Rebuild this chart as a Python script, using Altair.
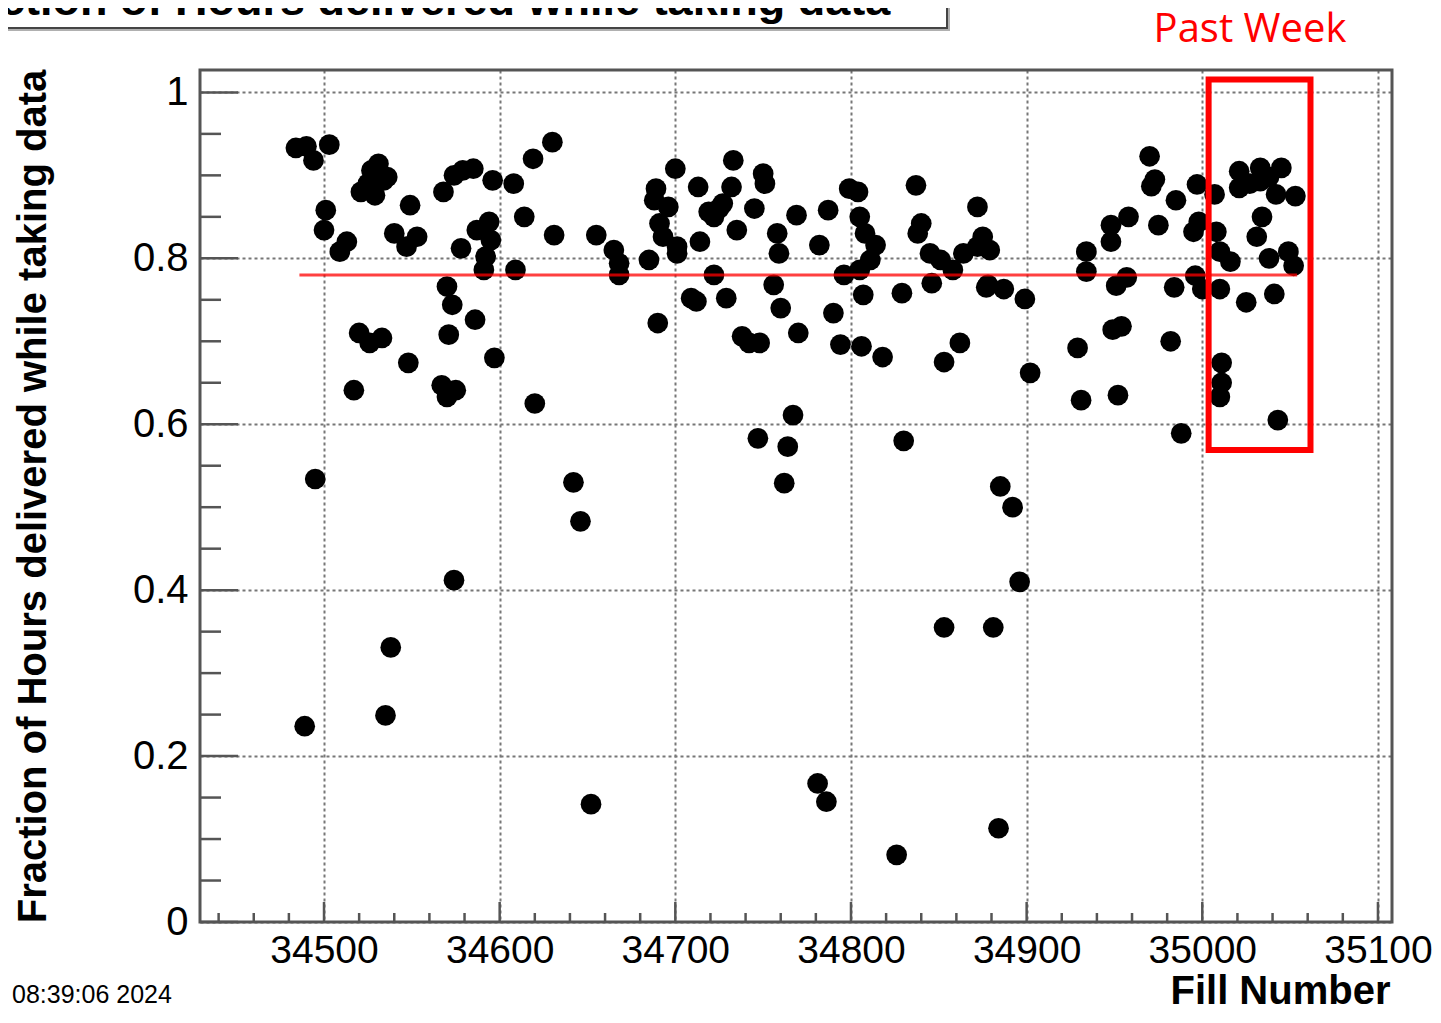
import altair as alt
import pandas as pd

# ---- data ----
fill_number = [
    34484, 34490, 34494, 34503, 34501, 34500, 34513, 34509, 34527, 34531,
    34536, 34525, 34521, 34529, 34534, 34549, 34540, 34547, 34553, 34568,
    34574, 34579, 34585, 34596, 34608, 34619, 34630, 34614, 34631, 34655,
    34578, 34587, 34594, 34595, 34592, 34591, 34609, 34570, 34573, 34586,
    34571, 34597, 34520, 34526, 34533, 34548, 34517, 34567, 34575, 34570,
    34620, 34665, 34668, 34668, 34685, 34689, 34688, 34696, 34691, 34693,
    34701, 34701, 34700, 34713, 34714, 34722, 34727, 34732, 34719, 34725,
    34733, 34735, 34745, 34750, 34751, 34758, 34759, 34769, 34782, 34787,
    34799, 34804, 34805, 34808, 34814, 34811, 34805, 34796, 34837, 34840,
    34838, 34845, 34851, 34858, 34864, 34872, 34875, 34872, 34879, 34846,
    34878, 34829, 34807, 34756, 34722, 34760, 34709, 34712, 34729, 34690,
    34738, 34742, 34748, 34770, 34790, 34794, 34806, 34818, 34862, 34853,
    34767, 34747, 34764, 34762, 34830, 34877, 34887, 34899, 34902, 34934,
    34934, 34948, 34948, 34958, 34951, 34957, 34970, 34971, 34973, 34985,
    34975, 34997, 34995, 34998, 34984, 34996, 35000, 35007, 35008, 35010,
    35016, 35010, 35021, 35021, 35033, 35033, 35045, 35042, 35053, 35034,
    35031, 35038, 35049, 35052, 35025, 35041, 35011, 35011, 35010, 35043,
    34988, 34982, 34929, 34954, 34949, 34931, 34952, 34495, 34642, 34646,
    34574, 34538, 34535, 34489, 34652, 34885, 34892, 34896, 34853, 34881,
    34781, 34786, 34884, 34826, 35027, 35038,
]
fraction = [
    0.933, 0.935, 0.918, 0.937, 0.858, 0.834, 0.820, 0.808, 0.906, 0.914,
    0.898, 0.890, 0.880, 0.876, 0.894, 0.864, 0.830, 0.814, 0.826, 0.880,
    0.900, 0.906, 0.908, 0.894, 0.890, 0.920, 0.940, 0.850, 0.828, 0.828,
    0.812, 0.834, 0.844, 0.822, 0.802, 0.786, 0.786, 0.766, 0.744, 0.726,
    0.708, 0.680, 0.710, 0.698, 0.704, 0.674, 0.641, 0.647, 0.641, 0.633,
    0.625, 0.810, 0.794, 0.780, 0.798, 0.884, 0.870, 0.862, 0.842, 0.826,
    0.814, 0.806, 0.908, 0.886, 0.820, 0.850, 0.866, 0.886, 0.856, 0.860,
    0.918, 0.834, 0.860, 0.902, 0.890, 0.830, 0.806, 0.852, 0.816, 0.858,
    0.884, 0.880, 0.850, 0.830, 0.816, 0.798, 0.786, 0.780, 0.888, 0.842,
    0.830, 0.806, 0.798, 0.786, 0.806, 0.814, 0.826, 0.862, 0.810, 0.770,
    0.768, 0.758, 0.756, 0.768, 0.780, 0.740, 0.752, 0.748, 0.752, 0.722,
    0.706, 0.698, 0.698, 0.710, 0.734, 0.696, 0.694, 0.681, 0.698, 0.675,
    0.611, 0.583, 0.573, 0.529, 0.580, 0.765, 0.763, 0.751, 0.662, 0.808,
    0.784, 0.840, 0.820, 0.850, 0.767, 0.777, 0.923, 0.887, 0.895, 0.870,
    0.840, 0.889, 0.832, 0.844, 0.765, 0.779, 0.763, 0.877, 0.832, 0.808,
    0.796, 0.763, 0.905, 0.885, 0.909, 0.893, 0.909, 0.877, 0.875, 0.850,
    0.826, 0.800, 0.808, 0.791, 0.747, 0.757, 0.674, 0.650, 0.633, 0.605,
    0.589, 0.700, 0.692, 0.718, 0.714, 0.629, 0.635, 0.534, 0.530, 0.483,
    0.412, 0.331, 0.249, 0.236, 0.142, 0.525, 0.500, 0.410, 0.355, 0.355,
    0.167, 0.145, 0.113, 0.081, 0.890, 0.898,
]

x_major = [34500, 34600, 34700, 34800, 34900, 35000, 35100]
x_minor = [34440, 34460, 34480] + [v for v in range(34520, 35100, 20) if v % 100 != 0]
y_major = [0.0, 0.2, 0.4, 0.6, 0.8, 1.0]
y_minor = [0.05, 0.1, 0.15, 0.25, 0.3, 0.35, 0.45, 0.5, 0.55, 0.65, 0.7, 0.75, 0.85, 0.9, 0.95]

mean_line_start = [34486]
mean_line_end = [35054]
mean_value = [0.780]

week_fill_start = [35003.6]
week_fill_end = [35061.6]
week_frac_low = [0.569]
week_frac_high = [1.0155]

X_DOMAIN = [34429.4, 35108]
Y_DOMAIN = [0, 1.027]
W, H = 1192, 852
FONT = "Liberation Sans"

xs = alt.Scale(domain=X_DOMAIN, nice=False, zero=False)
ys = alt.Scale(domain=Y_DOMAIN, nice=False, zero=False)

x_axis = alt.Axis(
    values=x_major, format="d", grid=True, ticks=False, domain=False,
    gridDash=[3, 3], gridColor="#777", gridWidth=2,
    labelFont=FONT, labelFontSize=39, labelColor="black", labelPadding=9,
    title="Fill Number", titleFont=FONT, titleFontSize=40, titleFontWeight="bold",
    titleColor="black", titleAnchor="end", titleAlign="right",
    titleBaseline="alphabetic", titleX=1190, titleY=81)
y_axis = alt.Axis(
    values=y_major, format=".1~f", grid=True, ticks=False, domain=False,
    gridDash=[3, 3], gridColor="#777", gridWidth=2,
    labelFont=FONT, labelFontSize=40, labelColor="black", labelPadding=12,
    title="Fraction of Hours delivered while taking data", titleFont=FONT,
    titleFontSize=40, titleFontWeight="bold", titleColor="black",
    titleAngle=270, titleAlign="center", titleBaseline="alphabetic",
    titleX=-155, titleY=426)

pts = pd.DataFrame({"fill": fill_number, "frac": fraction})

points = alt.Chart(pts).mark_circle(size=430, color="black", opacity=1).encode(
    x=alt.X("fill:Q", scale=xs, axis=x_axis),
    y=alt.Y("frac:Q", scale=ys, axis=y_axis),
)

one = pd.DataFrame({"a": [0]})
TICK = "#555"

xmaj = alt.Chart(pd.DataFrame({"t": x_major})).mark_rule(color=TICK, strokeWidth=2.5).encode(
    x=alt.X("t:Q", scale=xs, axis=x_axis), y=alt.value(H), y2=alt.value(H - 20))
xmin = alt.Chart(pd.DataFrame({"t": x_minor})).mark_rule(color=TICK, strokeWidth=2.5).encode(
    x=alt.X("t:Q", scale=xs, axis=x_axis), y=alt.value(H), y2=alt.value(H - 9))
ymaj = alt.Chart(pd.DataFrame({"t": y_major})).mark_rule(color=TICK, strokeWidth=2.5).encode(
    y=alt.Y("t:Q", scale=ys, axis=y_axis), x=alt.value(0), x2=alt.value(38))
ymin = alt.Chart(pd.DataFrame({"t": y_minor})).mark_rule(color=TICK, strokeWidth=2.5).encode(
    y=alt.Y("t:Q", scale=ys, axis=y_axis), x=alt.value(0), x2=alt.value(21))

frame = alt.Chart(one).mark_rect(fill="transparent", stroke="#555", strokeWidth=3).encode(
    x=alt.value(0), x2=alt.value(W), y=alt.value(0), y2=alt.value(H))

mean_df = pd.DataFrame({"x1": mean_line_start, "x2": mean_line_end, "y": mean_value})
mean_line = alt.Chart(mean_df).mark_rule(color="#ff0000", strokeWidth=3, opacity=0.75).encode(
    x=alt.X("x1:Q", scale=xs, axis=x_axis), x2="x2:Q", y=alt.Y("y:Q", scale=ys, axis=y_axis))

box_df = pd.DataFrame({"x1": week_fill_start, "x2": week_fill_end,
                       "y1": week_frac_low, "y2": week_frac_high})
week_box = alt.Chart(box_df).mark_rect(fill="transparent", stroke="#ff0000", strokeWidth=6).encode(
    x=alt.X("x1:Q", scale=xs, axis=x_axis), x2="x2:Q",
    y=alt.Y("y1:Q", scale=ys, axis=y_axis), y2="y2:Q")

week_text = alt.Chart(one).mark_text(
    text="Past Week", font="Open Sans", fontSize=40, color="#ff0000",
    align="center", baseline="alphabetic").encode(x=alt.value(1050), y=alt.value(-28))

title_shadow = alt.Chart(one).mark_rect(fill="#b0b0b0").encode(
    x=alt.value(-300), x2=alt.value(750), y=alt.value(-140), y2=alt.value(-39))
title_box = alt.Chart(one).mark_rect(fill="white", stroke="#444", strokeWidth=2).encode(
    x=alt.value(-300), x2=alt.value(747), y=alt.value(-140), y2=alt.value(-42))
title_text = alt.Chart(one).mark_text(
    text="Fraction of Hours delivered while taking data", font=FONT, fontSize=45,
    fontWeight="bold", color="black", align="left", baseline="alphabetic").encode(
    x=alt.value(-270), y=alt.value(-55))

date_text = alt.Chart(one).mark_text(
    text="08:39:06 2024", font=FONT, fontSize=25, color="black",
    align="left", baseline="alphabetic").encode(x=alt.value(-188), y=alt.value(H + 81))

chart = alt.layer(
    points, xmaj, xmin, ymaj, ymin, frame, mean_line, week_box, week_text,
    title_shadow, title_box, title_text, date_text,
).properties(
    width=W, height=H,
    background="white",
    autosize=alt.AutoSizeParams(type="none"),
    padding={"left": 192, "top": 62, "right": 40, "bottom": 88},
).configure_view(
    stroke=None
)

chart.save("out.html", embed_options={"renderer": "svg", "actions": False})
